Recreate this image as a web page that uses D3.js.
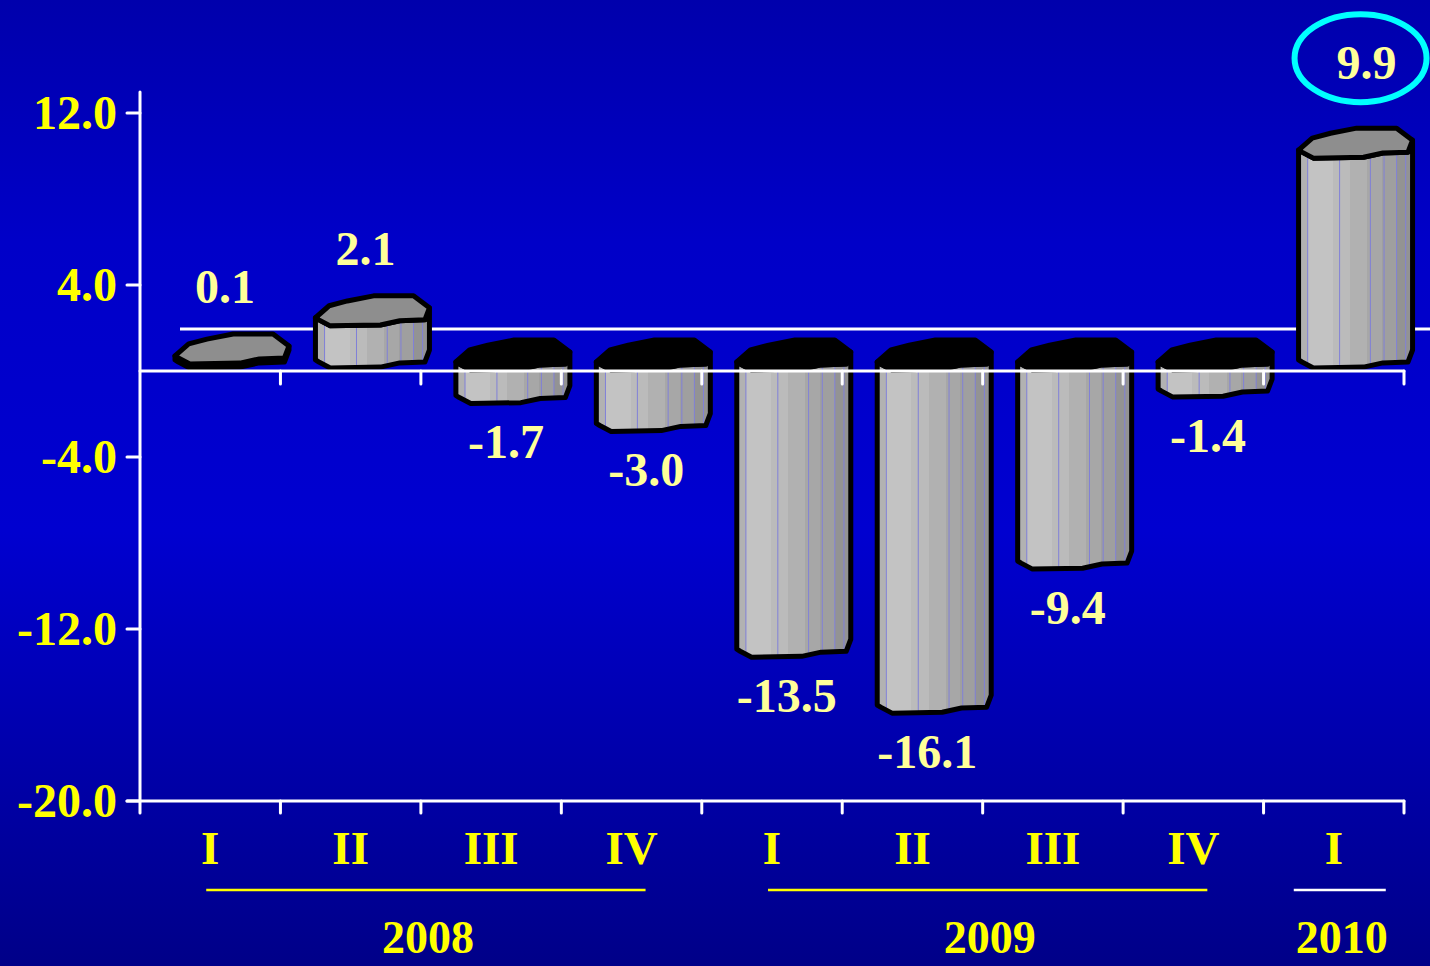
<!DOCTYPE html>
<html><head><meta charset="utf-8">
<script src="https://cdn.jsdelivr.net/npm/d3@7"></script>
<style>html,body{margin:0;padding:0;background:#0000c0;}svg{display:block;}</style>
</head><body>
<svg id="chart" width="1430" height="966"></svg>
<script>
// ---- data ----
const quarters = ["I","II","III","IV","I","II","III","IV","I"];
const values = [0.1, 2.1, -1.7, -3.0, -13.5, -16.1, -9.4, -1.4, 9.9];
const valueLabels = ["0.1","2.1","-1.7","-3.0","-13.5","-16.1","-9.4","-1.4","9.9"];
const years = ["2008","2009","2010"];
const yearSpans = [[0,3],[4,7],[8,8]];
const yTicks = [12, 4, -4, -12, -20];
const yTickLabels = ["12.0","4.0","-4.0","-12.0","-20.0"];
const highlightIndex = 8;

const svg = d3.select("#chart");
const W = 1430, H = 966;
const defs = svg.append("defs");

const bg = defs.append("linearGradient").attr("id","bg").attr("x1",0).attr("y1",0).attr("x2",0).attr("y2",1);
bg.append("stop").attr("offset",0).attr("stop-color","#0000ac");
bg.append("stop").attr("offset",0.25).attr("stop-color","#0000c8");
bg.append("stop").attr("offset",0.55).attr("stop-color","#0000d0");
bg.append("stop").attr("offset",0.8).attr("stop-color","#0000a8");
bg.append("stop").attr("offset",1).attr("stop-color","#000088");
svg.append("rect").attr("width",W).attr("height",H).attr("fill","url(#bg)");

const body = defs.append("linearGradient").attr("id","bodyG").attr("x1",0).attr("y1",0).attr("x2",1).attr("y2",0);
[[0,"#b2b2b2"],[0.08,"#b2b2b2"],[0.08,"#c3c3c3"],[0.3,"#c3c3c3"],[0.3,"#bbbbbb"],[0.45,"#bbbbbb"],[0.45,"#b1b1b1"],[0.6,"#b1b1b1"],[0.6,"#a7a7a7"],[0.73,"#a7a7a7"],[0.73,"#9f9f9f"],[0.86,"#9f9f9f"],[0.86,"#939393"],[1,"#939393"]]
  .forEach(s => body.append("stop").attr("offset",s[0]).attr("stop-color",s[1]));

// ---- scales ----
const y = d3.scaleLinear().domain([-20, 12]).range([801, 113]);
const x = d3.scaleBand().domain(d3.range(quarters.length)).range([140, 1404]).paddingInner(0).paddingOuter(0);
const step = x.step();
const y0 = y(0);

// back wall zero line
svg.append("line").attr("x1",180).attr("x2",1430).attr("y1",y0-42).attr("y2",y0-42)
  .attr("stroke","#fff").attr("stroke-width",3);

// ---- bars ----
const BW = 114, D = 30, OFF = 35;
const cross = [[0,0.73],[0.12,0.33],[0.28,0.17],[0.51,0],[0.86,0],[1.0,0.4],[0.96,0.8],[0.74,0.83],[0.57,0.97],[0.13,1.0],[0.03,0.8]];
const frontIdx = [0,10,9,8,7,6,5];
const stripeU = [0.08,0.36,0.63,0.75,0.86,0.94];
const line = d3.line();
const font = "'Liberation Serif', 'Times New Roman', serif";

const bars = svg.append("g");
values.forEach((v, i) => {
  const x0 = x(i) + OFF;
  let yTop, yBot;
  if (v >= 0) { yBot = y0 - 3; yTop = Math.min(y(v), yBot - 4); }
  else { yTop = y0 - 1; yBot = y(v) - 4; }
  const P = (c, yf) => [x0 + c[0]*BW, yf - D*(1 - c[1])];
  const topArc = frontIdx.map(k => P(cross[k], yTop));
  const botArc = frontIdx.slice().reverse().map(k => P(cross[k], yBot));
  const bodyPts = topArc.concat(botArc);
  const g = bars.append("g");
  const cid = "clip" + i;
  defs.append("clipPath").attr("id", cid).append("path").attr("d", line(bodyPts) + "Z");
  g.append("path").attr("d", line(bodyPts) + "Z").attr("fill","url(#bodyG)");
  const sg = g.append("g").attr("clip-path", `url(#${cid})`);
  stripeU.forEach(u => sg.append("line").attr("x1", x0+u*BW).attr("x2", x0+u*BW)
    .attr("y1", yTop - D - 5).attr("y2", yBot + 5).attr("stroke","#8080d8").attr("stroke-width",1));
  g.append("path").attr("d", line(bodyPts) + "Z").attr("fill","none")
    .attr("stroke","#000").attr("stroke-width",5).attr("stroke-linejoin","round");
  const topPts = cross.map(c => P(c, yTop));
  g.append("path").attr("d", line(topPts) + "Z").attr("fill", v >= 0 ? "#8e8e8e" : "#000")
    .attr("stroke","#000").attr("stroke-width",5).attr("stroke-linejoin","round");

  // value label
  let lx = x0 + 50;
  let ly = v >= 0 ? yTop - D - 48 : yBot + 38;
  if (i === highlightIndex) { ly -= 18; lx += 18; }
  svg.append("text").attr("class","vlab").attr("x", lx).attr("y", ly).attr("dy","0.35em")
    .attr("text-anchor","middle").attr("font-family",font)
    .attr("font-weight","bold").attr("font-size",48).attr("fill","#ffff99").text(valueLabels[i]);
  if (i === highlightIndex) {
    svg.append("ellipse").attr("cx", lx - 6).attr("cy", ly - 4).attr("rx",66).attr("ry",44)
      .attr("fill","none").attr("stroke","#00ffff").attr("stroke-width",6);
  }
});

// ---- axes ----
const ax = svg.append("g").attr("stroke","#fff").attr("stroke-width",3).attr("stroke-linecap","round");
const tickXs = d3.range(1, quarters.length).map(i => x(i)).concat([1404]);
ax.append("line").attr("x1",140).attr("x2",1404).attr("y1",y0).attr("y2",y0);
tickXs.forEach(t => ax.append("line").attr("x1",t).attr("x2",t).attr("y1",y0).attr("y2",y0+13));
ax.append("line").attr("x1",127).attr("x2",1404).attr("y1",y(-20)).attr("y2",y(-20));
tickXs.forEach(t => ax.append("line").attr("x1",t).attr("x2",t).attr("y1",y(-20)).attr("y2",y(-20)+12));
ax.append("line").attr("x1",140).attr("x2",140).attr("y1",92).attr("y2",y(-20)+12);
yTicks.forEach(t => ax.append("line").attr("x1",127).attr("x2",140).attr("y1",y(t)).attr("y2",y(t)));

yTicks.forEach((t, k) => svg.append("text").attr("x",117).attr("y",y(t)).attr("dy","0.33em")
  .attr("text-anchor","end").attr("font-family",font).attr("font-weight","bold").attr("font-size",48)
  .attr("fill","#ffff00").text(yTickLabels[k]));

quarters.forEach((q, i) => svg.append("text").attr("x", x(i) + step/2).attr("y", 848).attr("dy","0.35em")
  .attr("text-anchor","middle").attr("font-family",font).attr("font-weight","bold").attr("font-size",47)
  .attr("fill","#ffff00").text(q));

years.forEach((yr, k) => {
  const [a, b] = yearSpans[k];
  let xa = x(a) + step/2 - 4, xb = x(b) + step/2 + 14;
  if (a === b) { xa = x(a) + step/2 - 40; xb = x(a) + step/2 + 52; }
  svg.append("line").attr("x1",xa).attr("x2",xb).attr("y1",890).attr("y2",890)
    .attr("stroke", a === b ? "#ffffff" : "#ffff00").attr("stroke-width",2.5);
  svg.append("text").attr("x",(xa+xb)/2 + 2).attr("y",953).attr("text-anchor","middle")
    .attr("font-family",font).attr("font-weight","bold").attr("font-size",46)
    .attr("fill","#ffff00").text(yr);
});
</script>
</body></html>
